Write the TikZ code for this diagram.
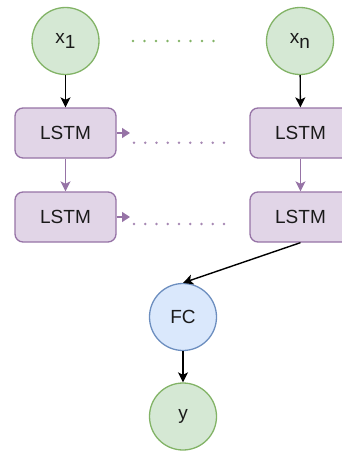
\documentclass[tikz,border=0pt]{standalone}
\usepackage{fontspec}
\setmainfont{Liberation Sans}
\usetikzlibrary{arrows.meta}
\definecolor{gfill}{HTML}{D5E8D4}
\definecolor{gline}{HTML}{82B366}
\definecolor{pfill}{HTML}{E1D5E7}
\definecolor{pline}{HTML}{9673A6}
\definecolor{bfill}{HTML}{DAE8FC}
\definecolor{bline}{HTML}{6C8EBF}
\definecolor{txt}{HTML}{1A1A1A}
\begin{document}
\begin{tikzpicture}[x=1pt,y=-1pt,
  every node/.style={font=\fontsize{19}{22}\selectfont, text=txt},
  circ/.style={circle, minimum size=67pt, inner sep=0pt, line width=1.3pt},
  gnode/.style={circ, draw=gline, fill=gfill},
  bnode/.style={circ, draw=bline, fill=bfill},
  lstm/.style={draw=pline, fill=pfill, rounded corners=8pt, minimum width=101pt, minimum height=50pt, line width=1.3pt, inner sep=0pt},
  blk/.style={line width=1.4pt, -{Stealth[length=10pt,width=10pt,inset=2.5pt]}},
  parr/.style={draw=pline, line width=1.4pt, -{Stealth[length=10pt,width=10pt,inset=2.5pt]}},
  prec/.style={draw=pline, line width=1.4pt, -{Triangle[length=8pt,width=10pt]}},
  gdots/.style={draw=gline, line width=2.8pt, line cap=round, dash pattern=on 0pt off 11.5pt},
  pdots/.style={draw=pline!85, line width=2.8pt, line cap=round, dash pattern=on 0pt off 11.25pt}
]
\useasboundingbox (0,0) rectangle (342,452);
% input nodes
\node[gnode] (x1) at (65.5,41) {x\raisebox{-5pt}{1}};
\node[gnode] (xn) at (300,41) {x\raisebox{-5pt}{n}};
% LSTM layers
\node[lstm] (l1) at (65.5,133) {LSTM};
\node[lstm] (r1) at (300.5,133) {LSTM};
\node[lstm] (l2) at (65.5,217) {LSTM};
\node[lstm] (r2) at (300.5,217) {LSTM};
% output
\node[bnode] (fc) at (183,317) {FC};
\node[gnode] (y) at (183,416.5) {y};
% dotted continuation marks
\coordinate (g0) at (133,41);
\coordinate (g1) at (214,41);
\draw[gdots] (g0) -- (g1);
\coordinate (a1) at (130,133);
\coordinate (p0) at (134,142.7);
\coordinate (p1) at (224,142.7);
\draw[prec] (l1.east) -- (a1);
\draw[pdots] (p0) -- (p1);
\coordinate (a2) at (130,217);
\coordinate (q0) at (134,224);
\coordinate (q1) at (224,224);
\draw[prec] (l2.east) -- (a2);
\draw[pdots] (q0) -- (q1);
% connectors
\draw[blk] (x1) -- (l1);
\draw[blk] (xn) -- (r1);
\draw[parr] (l1) -- (l2);
\draw[parr] (r1) -- (r2);
\draw[blk] (r2.south) -- (fc.north);
\draw[blk] (fc) -- (y);
\end{tikzpicture}
\end{document}
